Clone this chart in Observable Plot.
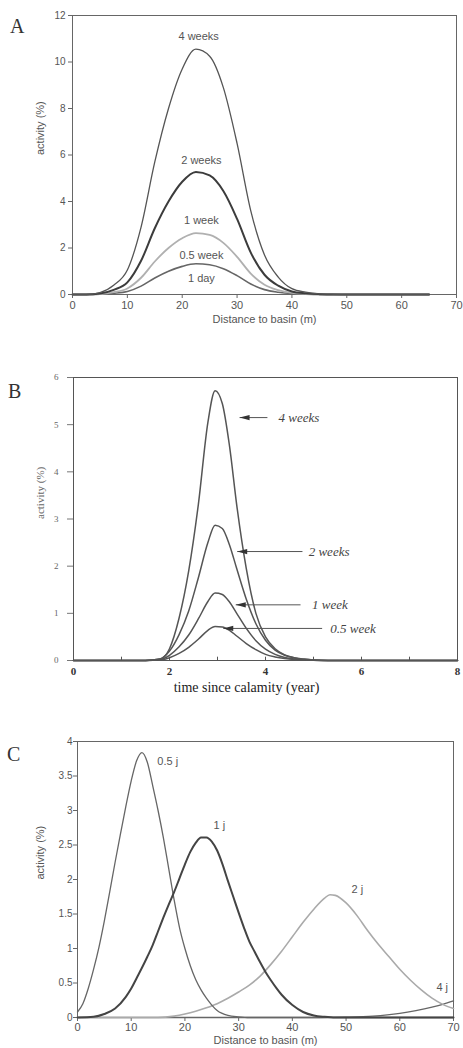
<!DOCTYPE html>
<html><head><meta charset="utf-8">
<script src="https://cdn.jsdelivr.net/npm/d3@7"></script>
<script src="https://cdn.jsdelivr.net/npm/@observablehq/plot@0.6"></script>
<style>
body{margin:0;background:#fff;}
#wrap{position:relative;width:463px;height:1048px;overflow:hidden;background:#fff;}
.panel{position:absolute;left:0;}
.letter{position:absolute;font-family:"Liberation Serif","Times New Roman",serif;font-size:20px;line-height:20px;color:#333;}
</style></head><body><div id="wrap"></div>
<script>
// ---------- Panel A: activity vs distance to basin ----------
const aX   = [0,2.5,5,7.5,10,12.5,15,17.5,20,22.5,25,27.5,30,32.5,35,37.5,40,42.5,45,47.5,50,55,60,65];
const a4w  = [0,0,0.08,0.4,1.05,2.9,5.7,8.0,9.7,10.55,10.25,8.9,6.5,3.6,1.7,0.75,0.25,0.1,0.03,0.01,0,0,0,0];
const a2w  = [0,0,0.04,0.2,0.52,1.45,2.85,4.0,4.85,5.27,5.12,4.45,3.25,1.8,0.85,0.38,0.13,0.05,0.015,0,0,0,0,0];
const a1w  = [0,0,0.02,0.1,0.26,0.72,1.42,2.0,2.42,2.64,2.56,2.22,1.62,0.9,0.42,0.19,0.07,0.03,0.01,0,0,0,0,0];
const a05w = [0,0,0.01,0.05,0.13,0.36,0.71,1.0,1.21,1.32,1.28,1.11,0.81,0.45,0.21,0.1,0.04,0.015,0.005,0,0,0,0,0];
const aXTicks = [0,10,20,30,40,50,60,70];
const aYTicks = [0,2,4,6,8,10,12];
const aLabels = ["4 weeks","2 weeks","1 week","0.5 week","1 day"];
const aLabelX = [23,23.5,23.5,23.5,23.5];
const aLabelY = [11.1,5.76,3.18,1.68,0.69];

// ---------- Panel B: activity vs time since calamity ----------
const bT   = [0,1.5,1.8,2.0,2.2,2.4,2.6,2.8,2.95,3.1,3.25,3.4,3.6,3.8,4.0,4.2,4.4,4.6,4.8,5.0,5.3,6,7,8];
const b4w  = [0,0,0.03,0.25,0.9,1.9,3.3,5.05,5.72,5.45,4.55,3.3,1.95,1.0,0.5,0.25,0.12,0.06,0.03,0.01,0,0,0,0];
const b2w  = [0,0,0.03,0.2,0.55,1.05,1.75,2.5,2.87,2.8,2.45,1.95,1.3,0.78,0.43,0.22,0.11,0.055,0.025,0.01,0,0,0,0];
const b1w  = [0,0,0.02,0.11,0.29,0.54,0.88,1.25,1.43,1.4,1.24,1.0,0.68,0.42,0.24,0.13,0.065,0.032,0.015,0.006,0,0,0,0];
const b05w = [0,0,0.01,0.06,0.15,0.28,0.45,0.64,0.72,0.71,0.64,0.52,0.36,0.23,0.13,0.075,0.04,0.02,0.01,0.004,0,0,0,0];
const bXTicks = [0,2,4,6,8];
const bXMinor = [1,2,3,4,5,6,7];
const bYTicks = [0,1,2,3,4,5,6];
const bLabels = ["4 weeks","2 weeks","1 week","0.5 week"];
const bLabelX = [4.27,4.9,4.97,5.35];
const bLabelY = [5.15,2.31,1.18,0.68];
const bArrowTipX  = [3.46,3.41,3.38,3.12];
const bArrowTailX = [4.04,4.77,4.73,5.18];

// ---------- Panel C: activity vs distance, by year ----------
const c05X = [0,1,2,3,4,5,6,7,8,9,10,11,12,13,14,15,16,17,18,19,20,21,22,23,24,25,26,28,30,32,40,50,60,70];
const c05Y = [0.08,0.2,0.42,0.7,1.02,1.4,1.82,2.25,2.66,3.06,3.43,3.72,3.84,3.7,3.36,3.0,2.6,2.15,1.7,1.3,1.0,0.75,0.55,0.4,0.28,0.18,0.1,0.03,0.01,0,0,0,0,0];
const c1X  = [0,3,5,7,9,10,11,12,13,14,15,16,17,18,19,20,21,22,23,24,25,26,27,28,29,30,31,32,33,34,35,36,37,38,40,42,44,46,48,55,70];
const c1Y  = [0,0.01,0.05,0.13,0.3,0.42,0.57,0.72,0.88,1.05,1.25,1.45,1.64,1.82,2.02,2.22,2.4,2.53,2.61,2.61,2.55,2.42,2.22,1.98,1.75,1.52,1.3,1.1,0.95,0.8,0.66,0.54,0.43,0.33,0.18,0.08,0.03,0.01,0,0,0];
const c2X  = [0,15,18,20,22,24,26,28,30,32,34,36,38,40,42,44,46,47,48,50,52,54,56,58,60,62,64,66,68,70];
const c2Y  = [0,0,0.02,0.05,0.09,0.14,0.2,0.28,0.37,0.47,0.6,0.77,0.96,1.17,1.38,1.57,1.73,1.78,1.77,1.66,1.48,1.26,1.06,0.88,0.7,0.54,0.4,0.28,0.19,0.13];
const c4X  = [0,45,50,55,60,63,66,68,70];
const c4Y  = [0,0,0.005,0.02,0.06,0.1,0.15,0.19,0.24];
const cXTicks = [0,10,20,30,40,50,60,70];
const cYTicks = [0,0.5,1,1.5,2,2.5,3,3.5,4];
const cLabels = ["0.5 j","1 j","2 j","4 j"];
const cLabelX = [16.8,26.4,52.1,67.9];
const cLabelY = [3.71,2.79,1.85,0.43];

const sans  = "Liberation Sans, Arial, sans-serif";
const serif = "Liberation Serif, Times New Roman, serif";
const pts = (xs, ys) => xs.map((x, i) => ({x, y: ys[i]}));
const txt = d => d;
const fmt = d => String(d);

const wrap = document.getElementById("wrap");
function place(el, top) { el.classList.add("panel"); el.style.top = top + "px"; wrap.appendChild(el); }
function letter(s, left, top) { const d = document.createElement("div"); d.className = "letter"; d.textContent = s; d.style.left = left + "px"; d.style.top = top + "px"; wrap.appendChild(d); }

// Panel A
const pa = Plot.plot({
  width: 463, height: 335, marginTop: 15, marginBottom: 41, marginLeft: 72, marginRight: 7,
  style: {fontFamily: sans, fontSize: "11px", color: "#555", background: "white", overflow: "visible"},
  x: {domain: [0, 70]}, y: {domain: [0, 12]},
  marks: [
    Plot.frame({stroke: "#666"}),
    Plot.axisX({ticks: aXTicks, tickFormat: fmt, tickSize: 4, tickPadding: 3, label: null, stroke: "#666", fill: "#555", fontSize: 11}),
    Plot.axisY({ticks: aYTicks, tickFormat: fmt, tickSize: 4, tickPadding: 3, label: null, stroke: "#666", fill: "#555", fontSize: 10}),
    Plot.line(pts(aX, a05w), {x: "x", y: "y", stroke: "#666", strokeWidth: 1.6, curve: "monotone-x"}),
    Plot.line(pts(aX, a1w),  {x: "x", y: "y", stroke: "#b0b0b0", strokeWidth: 1.8, curve: "monotone-x"}),
    Plot.line(pts(aX, a2w),  {x: "x", y: "y", stroke: "#3c3c3c", strokeWidth: 2, curve: "monotone-x"}),
    Plot.line(pts(aX, a4w),  {x: "x", y: "y", stroke: "#555", strokeWidth: 1.3, curve: "monotone-x"}),
    Plot.text(aLabels, {x: aLabelX, y: aLabelY, text: txt, fill: "#555", fontSize: 11}),
    Plot.text(["activity (%)"], {frameAnchor: "left", dx: -32, rotate: -90, text: txt, fill: "#555", fontSize: 11}),
    Plot.text(["Distance to basin (m)"], {frameAnchor: "bottom", dy: 28, text: txt, fill: "#555", fontSize: 11})
  ]
});
place(pa, 0);

// Panel B
const arrowHead = {draw(ctx) { ctx.moveTo(0, 0); ctx.lineTo(10, -2.6); ctx.lineTo(10, 2.6); ctx.closePath(); }};
const pb = Plot.plot({
  width: 463, height: 360, marginTop: 32, marginBottom: 45, marginLeft: 73, marginRight: 6,
  style: {fontFamily: serif, fontSize: "10px", color: "#555", background: "white", overflow: "visible"},
  x: {domain: [0, 8]}, y: {domain: [0, 6]},
  marks: [
    Plot.frame({stroke: "#555"}),
    Plot.ruleX(bXMinor, {x: txt, y1: 0, y2: 0.07, stroke: "#555"}),
    Plot.axisX({ticks: bXTicks, tickFormat: fmt, tickSize: 0, tickPadding: 7, label: null, fill: "#333", fontSize: 11, fontWeight: "bold", fontFamily: serif}),
    Plot.axisY({ticks: bYTicks, tickFormat: fmt, tickSize: 6, tickPadding: 9, label: null, stroke: "#777", fill: "#666", fontSize: 9, fontFamily: serif}),
    Plot.line(pts(bT, b05w), {x: "x", y: "y", stroke: "#555", strokeWidth: 1.5, curve: "monotone-x"}),
    Plot.line(pts(bT, b1w),  {x: "x", y: "y", stroke: "#555", strokeWidth: 1.5, curve: "monotone-x"}),
    Plot.line(pts(bT, b2w),  {x: "x", y: "y", stroke: "#555", strokeWidth: 1.5, curve: "monotone-x"}),
    Plot.line(pts(bT, b4w),  {x: "x", y: "y", stroke: "#555", strokeWidth: 1.5, curve: "monotone-x"}),
    Plot.link(bLabelY, {x1: bArrowTailX, x2: bArrowTipX, y1: bLabelY, y2: bLabelY, stroke: "#555", strokeWidth: 1}),
    Plot.dot(bLabelY, {x: bArrowTipX, y: bLabelY, symbol: arrowHead, r: 3, fill: "#333", stroke: "none"}),
    Plot.text(bLabels, {x: bLabelX, y: bLabelY, text: txt, textAnchor: "start", fontStyle: "italic", fill: "#444", fontSize: 13, fontFamily: serif}),
    Plot.text(["activity (%)"], {frameAnchor: "left", dx: -33, rotate: -90, text: txt, fill: "#666", fontSize: 11, fontFamily: serif}),
    Plot.text(["time since calamity (year)"], {frameAnchor: "bottom", dy: 31, dx: -19, text: txt, fill: "#222", fontSize: 14, fontFamily: serif})
  ]
});
place(pb, 345);

// Panel C
const pc = Plot.plot({
  width: 463, height: 338, marginTop: 31, marginBottom: 31, marginLeft: 77, marginRight: 10,
  style: {fontFamily: sans, fontSize: "11px", color: "#555", background: "white", overflow: "visible"},
  x: {domain: [0, 70]}, y: {domain: [0, 4]},
  marks: [
    Plot.frame({stroke: "#666"}),
    Plot.axisX({ticks: cXTicks, tickFormat: fmt, tickSize: 4, tickPadding: 2, label: null, stroke: "#666", fill: "#555", fontSize: 11}),
    Plot.axisY({ticks: cYTicks, tickFormat: fmt, tickSize: 4, tickPadding: 1, label: null, stroke: "#666", fill: "#555", fontSize: 10}),
    Plot.line(pts(c4X, c4Y),   {x: "x", y: "y", stroke: "#666", strokeWidth: 1.4, curve: "monotone-x"}),
    Plot.line(pts(c2X, c2Y),   {x: "x", y: "y", stroke: "#aaa", strokeWidth: 1.6, curve: "monotone-x"}),
    Plot.line(pts(c05X, c05Y), {x: "x", y: "y", stroke: "#666", strokeWidth: 1.3, curve: "monotone-x"}),
    Plot.line(pts(c1X, c1Y),   {x: "x", y: "y", stroke: "#444", strokeWidth: 2, curve: "monotone-x"}),
    Plot.text(cLabels, {x: cLabelX, y: cLabelY, text: txt, fill: "#555", fontSize: 11}),
    Plot.text(["activity (%)"], {frameAnchor: "left", dx: -37, rotate: -90, text: txt, fill: "#555", fontSize: 11}),
    Plot.text(["Distance to basin (m)"], {frameAnchor: "bottom", dy: 26, text: txt, fill: "#555", fontSize: 11})
  ]
});
place(pc, 710);

letter("A", 10, 16);
letter("B", 8, 381);
letter("C", 7, 744);
</script></body></html>
